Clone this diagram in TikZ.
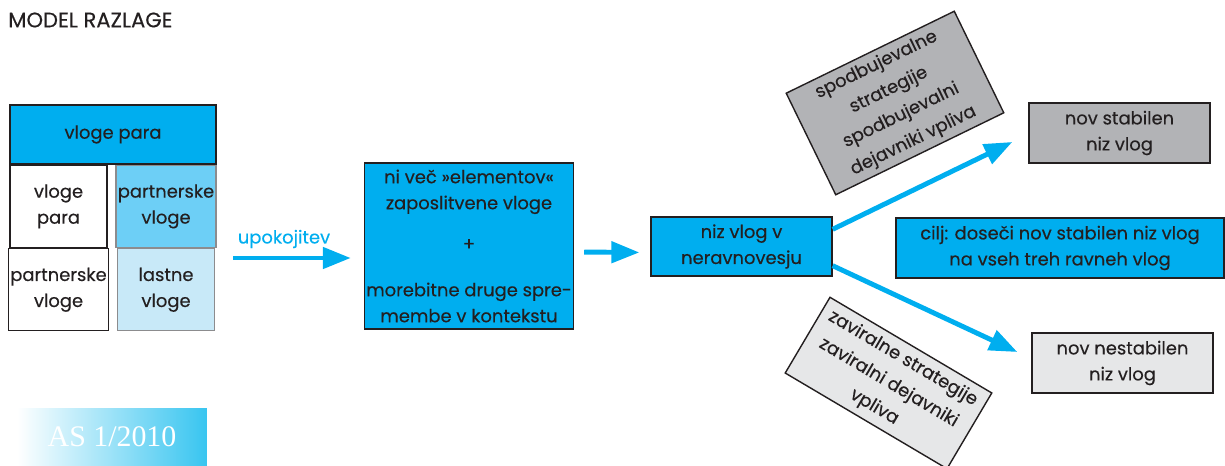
\documentclass[tikz,border=0pt]{standalone}
\usepackage{fontspec}
\setmainfont{Poppins}[FakeBold=0.3]
\newfontfamily\stampfont{Liberation Serif}
\usetikzlibrary{arrows.meta,positioning}

\definecolor{roleblue}{RGB}{0,174,239}
\definecolor{midblue}{RGB}{109,207,246}
\definecolor{paleblue}{RGB}{200,233,248}
\definecolor{stampblue}{RGB}{56,197,240}
\definecolor{inkgray}{RGB}{35,31,32}
\definecolor{edgegray}{RGB}{140,140,142}
\definecolor{darkfill}{RGB}{178,179,182}
\definecolor{lightfill}{RGB}{230,231,232}

\begin{document}
\begin{tikzpicture}[x=0.02cm,y=-0.02cm,
    font=\fontsize{10.2}{14.8}\selectfont,text=inkgray,
    box/.style={draw=inkgray,line width=0.8pt,align=center,inner sep=1pt},
    cell/.style={box,minimum width=1.95cm,minimum height=1.64cm},
    flow/.style={draw=roleblue,line width=2.8pt,
      -{Triangle[length=0.56cm,width=0.42cm]}}]
  \useasboundingbox (0,0) rectangle (1225,466);

  \node[anchor=west,inner sep=0pt,font=\fontsize{12}{14}\selectfont] (title) at (8,20) {MODEL RAZLAGE};

  % par vlog na levi
  \node[box,fill=roleblue,minimum width=4.12cm,minimum height=1.18cm]
    (pair) at (113,134.5) {vloge para};
  \node[cell,fill=white,minimum width=1.94cm,below right=0pt and 0pt of pair.south west]
    (pairroles) {vloge\\para};
  \node[cell,fill=white,minimum width=1.94cm,below=0pt of pairroles]
    (partnerleft) {partnerske\\vloge};
  \node[cell,draw=edgegray,fill=midblue,below left=0pt and 0pt of pair.south east]
    (partnerright) {partnerske\\vloge};
  \node[cell,draw=edgegray,fill=paleblue,below=0pt of partnerright]
    (ownroles) {lastne\\vloge};

  \node[text=roleblue,inner sep=0pt] (retire) at (284,239) {upokojitev};
  \coordinate (retirestart) at (233,258);

  \node[box,fill=roleblue,minimum width=3.92cm,minimum height=3.32cm]
    (changes) at (469,246)
    {ni več »elementov«\\zaposlitvene vloge\\[0.3cm]+\\[0.4cm]morebitne druge spre-\\membe v kontekstu};

  \node[box,fill=roleblue,minimum width=3.62cm,minimum height=1.18cm]
    (imbalance) at (741.5,246.5) {niz vlog v\\neravnovesju};

  \node[box,fill=darkfill,rotate=26,minimum width=3.74cm,minimum height=2.26cm,
    font=\fontsize{10.2}{16}\selectfont]
    (boost) at (895,103)
    {spodbujevalne\\strategije\\spodbujevalni\\dejavniki vpliva};
  \node[box,fill=lightfill,rotate=-30.6,minimum width=3.76cm,minimum height=1.76cm,
    font=\fontsize{10.2}{16}\selectfont]
    (brake) at (888.5,383)
    {zaviralne strategije\\zaviralni dejavniki\\vpliva};

  \node[box,fill=darkfill,minimum width=3.62cm,minimum height=1.2cm]
    (stable) at (1119.5,133) {nov stabilen\\niz vlog};
  \node[box,fill=roleblue,minimum width=6.56cm,minimum height=1.2cm]
    (goal) at (1060,248) {cilj: doseči nov stabilen niz vlog\\na vseh treh ravneh vlog};
  \node[box,fill=lightfill,minimum width=3.62cm,minimum height=1.2cm]
    (unstable) at (1122.5,363) {nov nestabilen\\niz vlog};

  \node[left color=white,right color=stampblue,minimum width=3.8cm,minimum height=1.16cm,
    text=white,font=\stampfont\fontsize{17}{17}\selectfont] (stamp) at (112,437) {AS 1/2010};

  \draw[flow,shorten >=0.26cm] (retirestart) -- (retirestart -| changes.west);
  \draw[flow,shorten <=0.2cm,shorten >=0.22cm]
    ([yshift=-0.12cm]changes.east) -- ([yshift=-0.12cm]imbalance.west);
  \draw[flow] ([yshift=-0.26cm]imbalance.north east)
    -- ([shift={(-0.32cm,-0.18cm)}]stable.west);
  \draw[flow] ([yshift=0.22cm]imbalance.south east)
    -- ([shift={(-0.28cm,0.22cm)}]unstable.west);
\end{tikzpicture}
\end{document}
